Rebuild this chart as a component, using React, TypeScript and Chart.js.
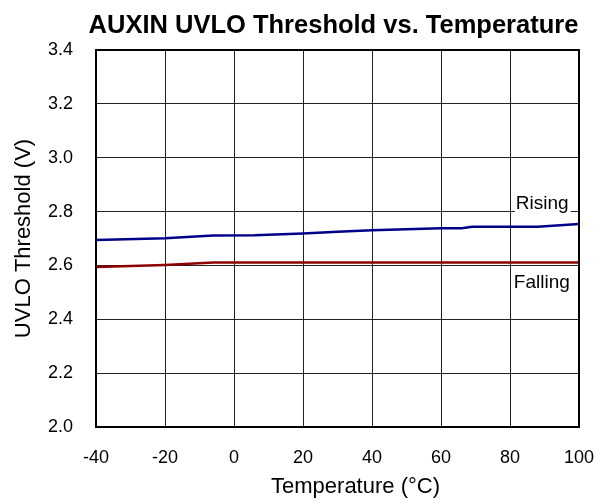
import React, { useEffect, useRef } from "react";
import { Chart, registerables } from "chart.js";

Chart.register(...registerables);

const risingTemp = [-40, -20, -6, 6, 20, 30, 40, 60, 66, 69, 88, 100];
const risingV = [2.694, 2.701, 2.711, 2.712, 2.719, 2.725, 2.731, 2.738, 2.738, 2.744, 2.744, 2.754];
const fallingTemp = [-40, -20, -6, 20, 60, 100];
const fallingV = [2.594, 2.602, 2.611, 2.611, 2.611, 2.611];

const seriesLabels = [
  { text: "Rising", x: 81.7, y: 2.828 },
  { text: "Falling", x: 81.1, y: 2.535 },
];

const chartTitle = "AUXIN UVLO Threshold vs. Temperature";
const xTitle = "Temperature (°C)";
const yTitle = "UVLO Threshold (V)";

const FONT = "'Liberation Sans', Arial, Helvetica, sans-serif";

const textPlugin = {
  id: "textPlugin",
  afterDatasetsDraw(chart: any) {
    const { ctx, scales } = chart;
    ctx.save();
    ctx.font = `19px ${FONT}`;
    ctx.textBaseline = "middle";
    ctx.textAlign = "left";
    for (const l of seriesLabels) {
      const px = scales.x.getPixelForValue(l.x);
      const py = scales.y.getPixelForValue(l.y);
      const w = ctx.measureText(l.text).width;
      ctx.fillStyle = "#ffffff";
      ctx.fillRect(px - 1, py - 11, w + 3, 22);
      ctx.fillStyle = "#000000";
      ctx.fillText(l.text, px, py);
    }
    ctx.restore();
  },
  afterDraw(chart: any) {
    const { ctx, chartArea } = chart;
    ctx.save();
    ctx.strokeStyle = "#000";
    ctx.lineWidth = 2;
    ctx.strokeRect(chartArea.left, chartArea.top, chartArea.right - chartArea.left, chartArea.bottom - chartArea.top);
    ctx.fillStyle = "#000";
    ctx.textAlign = "center";
    ctx.textBaseline = "alphabetic";
    ctx.font = `bold 25.5px ${FONT}`;
    const cx = (chartArea.left + chartArea.right) / 2;
    ctx.fillText(chartTitle, cx - 4, 33);
    ctx.font = `22px ${FONT}`;
    ctx.fillText(xTitle, cx + 18, 493);
    ctx.restore();
  },
};

export default function App() {
  const ref = useRef<HTMLCanvasElement | null>(null);
  useEffect(() => {
    if (!ref.current) return;
    Chart.defaults.font.family = FONT;
    Chart.defaults.color = "#000";
    const chart = new Chart(ref.current, {
      type: "line",
      data: {
        datasets: [
          {
            label: "Rising",
            data: risingTemp.map((t, i) => ({ x: t, y: risingV[i] })),
            borderColor: "#000088",
            borderWidth: 2.5,
            pointRadius: 0,
            tension: 0,
          },
          {
            label: "Falling",
            data: fallingTemp.map((t, i) => ({ x: t, y: fallingV[i] })),
            borderColor: "#8f0000",
            borderWidth: 2.5,
            pointRadius: 0,
            tension: 0,
          },
        ],
      },
      options: {
        animation: false,
        responsive: false,
        maintainAspectRatio: false,
        layout: { padding: { left: 0, right: 31, top: 50, bottom: 0 } },
        plugins: {
          legend: { display: false },
          tooltip: { enabled: false },
          title: { display: false },
        },
        scales: {
          x: {
            type: "linear",
            min: -40,
            max: 100,
            afterFit: (s: any) => {
              s.height = 77;
              s.paddingLeft = 0;
              s.paddingRight = 0;
            },
            ticks: { stepSize: 20, padding: 20, font: { size: 18 }, color: "#000", maxRotation: 0 },
            grid: { color: "#222", lineWidth: 1, drawTicks: false },
            border: { color: "#000", width: 2 },
            title: { display: false, text: xTitle },
          },
          y: {
            type: "linear",
            min: 2.0,
            max: 3.4,
            afterFit: (s: any) => { s.width = 96; },
            ticks: {
              stepSize: 0.2,
              padding: 23,
              font: { size: 18 },
              color: "#000",
              callback: (v: any) => Number(v).toFixed(1),
            },
            grid: { color: "#222", lineWidth: 1, drawTicks: false },
            border: { color: "#000", width: 2 },
            title: {
              display: true,
              text: yTitle,
              font: { size: 22 },
              color: "#000",
              padding: { top: 11, bottom: 0 },
            },
          },
        },
      },
      plugins: [textPlugin],
    });
    return () => chart.destroy();
  }, []);
  return (
    <div style={{ position: "fixed", left: 0, top: 0, width: 610, height: 504, background: "#fff" }}>
      <canvas ref={ref} width={610} height={504} style={{ width: 610, height: 504 }} />
    </div>
  );
}
